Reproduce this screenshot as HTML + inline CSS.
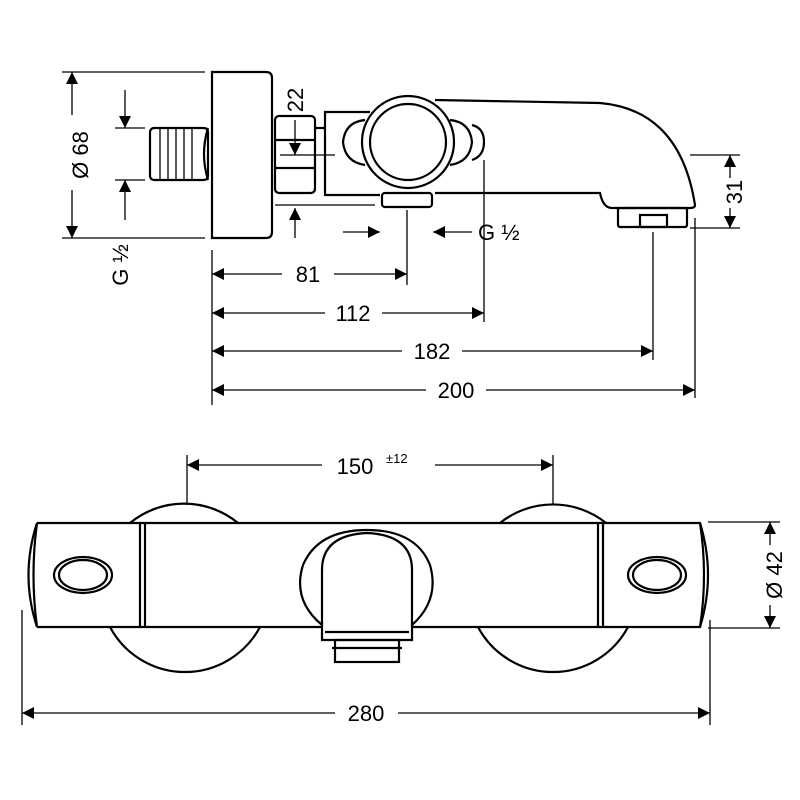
<!DOCTYPE html>
<html><head><style>body{margin:0;background:#fff}svg{display:block}</style></head><body>
<svg width="800" height="800" viewBox="0 0 800 800" xmlns="http://www.w3.org/2000/svg" font-family="Liberation Sans, sans-serif" font-size="22" fill="none" stroke="#000" stroke-width="2">
<defs><marker id="a" viewBox="0 0 10 10" refX="10" refY="5" markerWidth="7" markerHeight="6" orient="auto-start-reverse" markerUnits="userSpaceOnUse"><path d="M0,0L10,5L0,10z" fill="#000" stroke="none"/></marker>
<marker id="b" viewBox="0 0 10 10" refX="10" refY="5" markerWidth="16" markerHeight="12" orient="auto-start-reverse" markerUnits="userSpaceOnUse"><path d="M0,0L10,5L0,10z" fill="#000" stroke="none"/></marker></defs>
<!-- TOP VIEW -->
<g stroke-width="1.3">
<line x1="62" y1="72" x2="205" y2="72"/><line x1="62" y1="238" x2="205" y2="238"/>
<line x1="72" y1="72" x2="72" y2="115" marker-start="url(#b)"/><line x1="72" y1="190" x2="72" y2="238" marker-end="url(#b)"/>
<line x1="115" y1="128" x2="145" y2="128"/><line x1="115" y1="180" x2="145" y2="180"/>
<line x1="125" y1="90" x2="125" y2="128" marker-end="url(#b)"/><line x1="125" y1="220" x2="125" y2="180" marker-end="url(#b)"/>
<line x1="275" y1="205" x2="375" y2="205"/>
<line x1="295" y1="120" x2="295" y2="155" marker-end="url(#b)"/><line x1="295" y1="238" x2="295" y2="208" marker-end="url(#b)"/>
<line x1="280" y1="155" x2="335" y2="155"/>
<line x1="343" y1="232" x2="380" y2="232" marker-end="url(#b)"/><line x1="472" y1="232" x2="433" y2="232" marker-end="url(#b)"/>
<line x1="212" y1="250" x2="212" y2="405"/><line x1="407" y1="210" x2="407" y2="285"/>
<line x1="484" y1="160" x2="484" y2="322"/><line x1="653" y1="232" x2="653" y2="360"/><line x1="695" y1="218" x2="695" y2="398"/>
<line x1="690" y1="155" x2="740" y2="155"/><line x1="690" y1="228" x2="740" y2="228"/>
<line x1="730" y1="155" x2="730" y2="178" marker-start="url(#b)"/><line x1="730" y1="208" x2="730" y2="228" marker-end="url(#b)"/>
<line x1="212" y1="274" x2="282" y2="274" marker-start="url(#b)"/><line x1="334" y1="274" x2="407" y2="274" marker-end="url(#b)"/>
<line x1="212" y1="313" x2="325" y2="313" marker-start="url(#b)"/><line x1="382" y1="313" x2="484" y2="313" marker-end="url(#b)"/>
<line x1="212" y1="351" x2="402" y2="351" marker-start="url(#b)"/><line x1="462" y1="351" x2="653" y2="351" marker-end="url(#b)"/>
<line x1="212" y1="390" x2="426" y2="390" marker-start="url(#b)"/><line x1="486" y1="390" x2="695" y2="390" marker-end="url(#b)"/>
</g>
<g stroke-width="2.2">
<path d="M212,72H266Q272,72 272,78V232Q272,238 266,238H212Z"/>
<rect x="150" y="128" width="58" height="52" rx="4"/>
<path d="M208,128Q200,154 208,180" />
<g stroke-width="1.3"><line x1="160" y1="128" x2="160" y2="180"/><line x1="168" y1="128" x2="168" y2="180"/><line x1="176" y1="128" x2="176" y2="180"/><line x1="184" y1="128" x2="184" y2="180"/><line x1="192" y1="128" x2="192" y2="180"/></g>
<rect x="275" y="116" width="40" height="77" rx="4"/>
<line x1="275" y1="140" x2="315" y2="140"/><line x1="275" y1="168" x2="315" y2="168"/>
<path d="M315,128H325V112H370M325,112V195H380"/>
<path d="M435,100L600,103Q680,110 695,205Q695,208 690,208H612Q603,208 600,193L435,193"/>
<circle cx="408" cy="142" r="46"/><circle cx="408" cy="142" r="38"/>
<path d="M365,120Q345,122 343,142Q345,162 365,165"/><path d="M450,120Q470,122 472,142Q470,162 450,165"/>
<path d="M472,125Q484,128 484,142Q484,156 472,160"/>
<rect x="382" y="193" width="50" height="14" rx="3"/>
<rect x="618" y="208" width="69" height="19" rx="2"/><rect x="640" y="215" width="27" height="12"/>
</g>
<g fill="#000" stroke="none">
<text transform="translate(88,155) rotate(-90)" text-anchor="middle">Ø 68</text>
<text transform="translate(128,265) rotate(-90)" text-anchor="middle">G ½</text>
<text transform="translate(303,100) rotate(-90)" text-anchor="middle">22</text>
<text x="478" y="240">G ½</text>
<text transform="translate(742,192) rotate(-90)" text-anchor="middle">31</text>
<text x="308" y="282" text-anchor="middle">81</text>
<text x="353" y="321" text-anchor="middle">112</text>
<text x="432" y="359" text-anchor="middle">182</text>
<text x="456" y="398" text-anchor="middle">200</text>
<text x="355" y="474" text-anchor="middle">150</text><text x="386" y="463" font-size="13">±12</text>
<text transform="translate(782,575) rotate(-90)" text-anchor="middle">Ø 42</text>
<text x="366" y="721" text-anchor="middle">280</text>
</g>
<!-- BOTTOM VIEW -->
<g stroke-width="1.3">
<line x1="187" y1="455" x2="187" y2="505"/><line x1="553" y1="455" x2="553" y2="505"/>
<line x1="187" y1="465" x2="322" y2="465" marker-start="url(#b)"/><line x1="435" y1="465" x2="553" y2="465" marker-end="url(#b)"/>
<line x1="708" y1="522" x2="780" y2="522"/><line x1="708" y1="628" x2="780" y2="628"/>
<line x1="770" y1="522" x2="770" y2="545" marker-start="url(#b)"/><line x1="770" y1="605" x2="770" y2="628" marker-end="url(#b)"/>
<line x1="22" y1="610" x2="22" y2="725"/><line x1="710" y1="620" x2="710" y2="725"/>
<line x1="22" y1="713" x2="335" y2="713" marker-start="url(#b)"/><line x1="398" y1="713" x2="710" y2="713" marker-end="url(#b)"/>
</g>
<g stroke-width="2.2">
<path d="M130,523A85,85 0 0 1 238,523"/><path d="M110,627A85,85 0 0 0 260,627"/>
<path d="M500,523A85,85 0 0 1 606,523"/><path d="M478,627A85,85 0 0 0 628,627"/>
<path d="M37,523H598M37,627H598"/>
<path d="M37,523Q20,575 37,627"/>
<path d="M37,523Q30,575 37,627"/>
<line x1="140" y1="523" x2="140" y2="627"/><line x1="145" y1="523" x2="145" y2="627"/>
<line x1="598" y1="523" x2="598" y2="627"/><line x1="603" y1="523" x2="603" y2="627"/>
<path d="M598,523H700Q716,575 700,627H598"/><path d="M700,523Q708,575 700,627"/>
<ellipse cx="83" cy="575" rx="29" ry="18"/><ellipse cx="83" cy="575" rx="24" ry="15"/>
<ellipse cx="657" cy="575" rx="29" ry="18"/><ellipse cx="657" cy="575" rx="24" ry="15"/>
<path d="M322,625Q292,600 303,565Q318,530 367,530Q416,530 430,565Q440,600 412,625" fill="#fff"/>
<path d="M322,640V570Q322,535 367,533Q412,535 412,570V640Z" fill="#fff"/>
<line x1="325" y1="632" x2="409" y2="632"/>
<rect x="335" y="640" width="64" height="22"/><line x1="332" y1="648" x2="402" y2="648"/>
</g>
</svg>
</body></html>
